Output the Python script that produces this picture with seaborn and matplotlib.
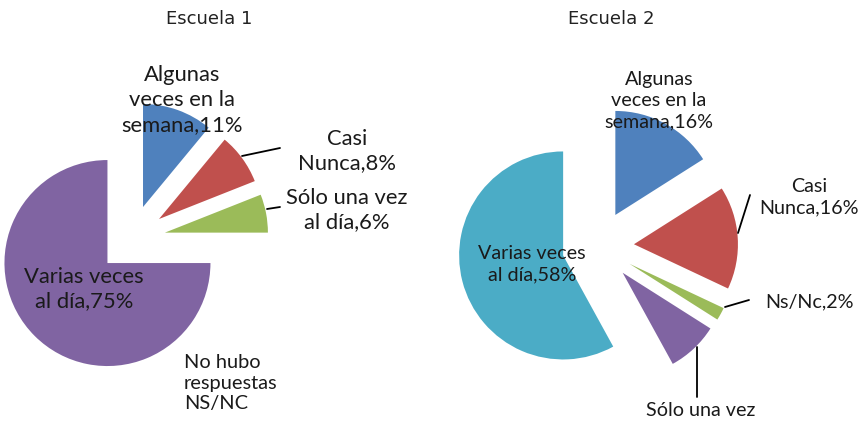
import matplotlib.pyplot as plt
import seaborn as sns

# Escuela 1
labels1 = ["Algunas veces en la semana", "Casi Nunca", "Sólo una vez al día", "Varias veces al día"]
values1 = [11, 8, 6, 75]
text1 = ["Algunas\nveces en la\nsemana", "Casi\nNunca", "Sólo una vez\nal día", "Varias veces\nal día"]

# Escuela 2
labels2 = ["Algunas veces en la semana", "Casi Nunca", "Ns/Nc", "Sólo una vez al día", "Varias veces al día"]
values2 = [16, 16, 2, 8, 58]
text2 = ["Algunas\nveces en la\nsemana", "Casi\nNunca", "Ns/Nc", "Sólo una vez", "Varias veces\nal día"]

colors1 = ["#4F81BD", "#C0504D", "#9BBB59", "#8064A2"]
colors2 = ["#4F81BD", "#C0504D", "#9BBB59", "#8064A2", "#4BACC6"]

sns.set_theme(style="white")
plt.rcParams['font.family'] = ['Lato', 'DejaVu Sans']

W, H = 863, 422
fig = plt.figure(figsize=(W / 100, H / 100), dpi=100)
ax = fig.add_axes([0, 0, 1, 1])


def Y(y):
    # image row -> data y
    return H - y


wp = dict(linewidth=0)
ax.pie(values1, colors=colors1, center=(131.5, Y(239)), radius=103,
       explode=[34] * len(values1), startangle=90, counterclock=False,
       wedgeprops=wp)
ax.pie(values2, colors=colors2, center=(598, Y(246.5)), radius=104,
       explode=[36] * len(values2), startangle=90, counterclock=False,
       wedgeprops=wp)

ax.set_xlim(0, W)
ax.set_ylim(0, H)
ax.set_aspect('equal')
ax.axis('off')

tc = "#1a1a1a"
lab1 = [f"{t},{v}%" for t, v in zip(text1, values1)]
lab2 = [f"{t},{v}%" for t, v in zip(text2, values2)]
lab2[3] = text2[3]  # only the first line of this label shows in the original

# titles
ax.text(209, Y(19), "Escuela 1", family='DejaVu Sans', fontsize=13, color="#222222",
        ha='center', va='center')
ax.text(611, Y(19), "Escuela 2", family='DejaVu Sans', fontsize=13, color="#222222",
        ha='center', va='center')

line = dict(arrowstyle='-', color='black', lw=1.3, shrinkA=0, shrinkB=0)

# chart 1 labels
fs1 = 15.8
kw1 = dict(fontsize=fs1, color=tc, ha='center', va='center', linespacing=1.3)
ax.text(182, Y(100), lab1[0], **kw1)
ax.text(347, Y(151), lab1[1], **kw1)
ax.annotate('', xy=(242, Y(156)), xytext=(280, Y(148)), arrowprops=line)
ax.text(347, Y(210), lab1[2], **kw1)
ax.annotate('', xy=(267, Y(209)), xytext=(280, Y(207)), arrowprops=line)
ax.text(84, Y(289), lab1[3], **kw1)
ax.text(184, Y(383), "No hubo\nrespuestas\nNS/NC", fontsize=14.4, color=tc,
        ha='left', va='center', linespacing=1.27)

# chart 2 labels
fs2 = 14.2
kw2 = dict(fontsize=fs2, color=tc, ha='center', va='center', linespacing=1.3)
ax.text(659, Y(101), lab2[0], **kw2)
ax.text(809, Y(197), lab2[1], **kw2)
ax.annotate('', xy=(738, Y(233)), xytext=(750, Y(195)), arrowprops=line)
ax.text(809, Y(302), lab2[2], **kw2)
ax.annotate('', xy=(725, Y(307)), xytext=(749, Y(300)), arrowprops=line)
ax.text(701, Y(410), lab2[3], **kw2)
ax.annotate('', xy=(697, Y(347)), xytext=(697, Y(397)), arrowprops=line)
ax.text(532, Y(264), lab2[4], **kw2)

fig.savefig("out.png", dpi=100)
